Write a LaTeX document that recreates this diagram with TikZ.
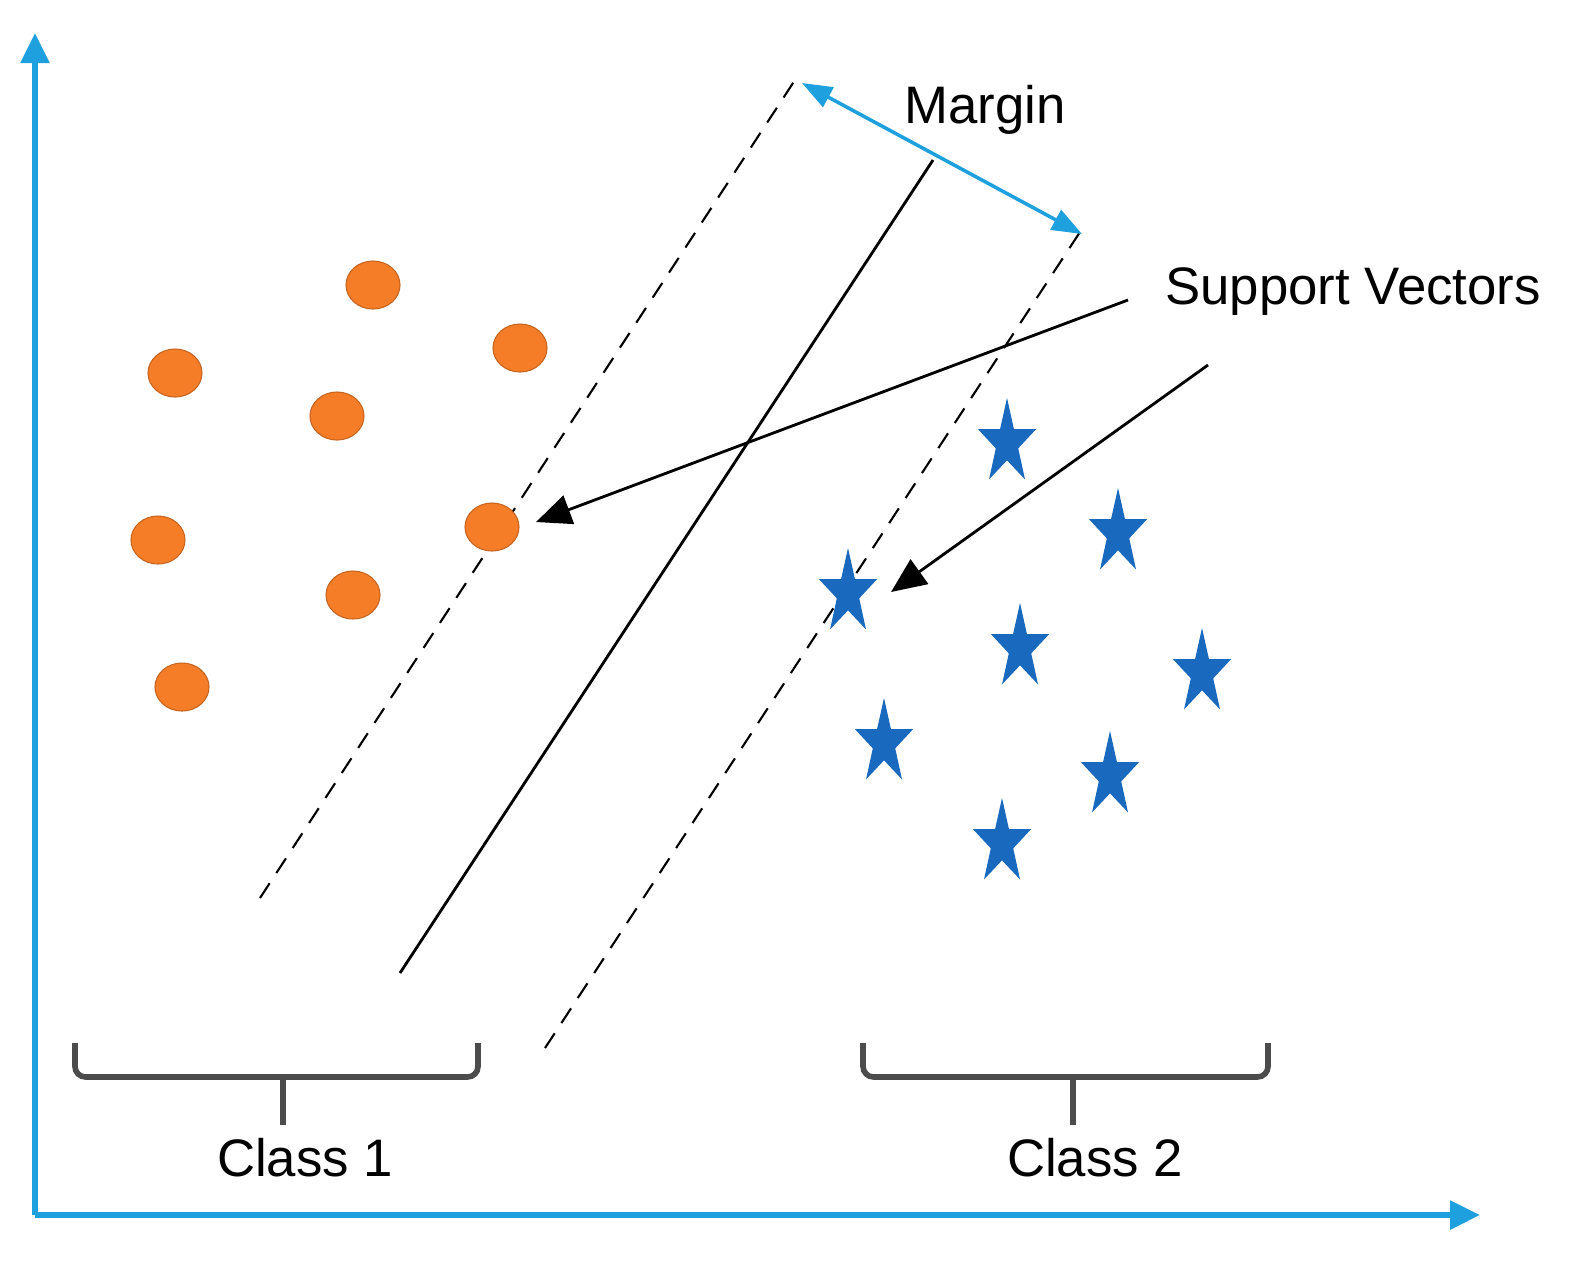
\documentclass[tikz,border=0pt]{standalone}
\usepackage{fontspec}
\setmainfont{Liberation Sans}
\usetikzlibrary{shapes.geometric,arrows.meta}
\definecolor{axc}{RGB}{30,160,222}
\definecolor{org}{RGB}{245,125,40}
\definecolor{stc}{RGB}{25,105,190}
\begin{document}
\begin{tikzpicture}[x=0.01cm,y=-0.01cm,
  dot/.style={ellipse,fill=org,draw=org!80!black,line width=0.3pt,minimum width=0.54cm,minimum height=0.48cm,inner sep=0},
  st/.style={star,star points=5,star point ratio=2.6,fill=stc,minimum size=0.9cm,inner sep=0,xscale=0.68,transform shape},
  lbl/.style={font=\fontsize{15}{18}\selectfont},
  brace/.style={draw=black!70,line width=1.6pt,rounded corners=3pt},
  dsh/.style={dash pattern=on 5pt off 3.5pt,line width=0.6pt},
  ax/.style={draw=axc,line width=1.6pt,-{Triangle[length=0.3cm,width=0.28cm]}}]
\useasboundingbox (0,0) rectangle (1571,1266);
\coordinate (o) at (35,1215);
\coordinate (yt) at (35,33);
\coordinate (xt) at (1480,1215);
\draw[ax] (o) -- (yt);
\draw[ax] (o) -- (xt);
\coordinate (d1a) at (260,898); \coordinate (d1b) at (795,80);
\coordinate (sa) at (400,973); \coordinate (sb) at (933,160);
\coordinate (d2a) at (545,1048); \coordinate (d2b) at (1080,232);
\draw[dsh] (d1a) -- (d1b);
\draw[thick] (sa) -- (sb);
\draw[dsh] (d2a) -- (d2b);
\coordinate (m1) at (802,83); \coordinate (m2) at (1082,234);
\draw[draw=axc,line width=1pt,{Triangle[length=0.3cm,width=0.22cm]}-{Triangle[length=0.3cm,width=0.22cm]}] (m1) -- (m2);
\node[lbl] (margin) at (985,110) {Margin};
\node[lbl] (sv) at (1353,292) {Support Vectors};
\foreach \n/\x/\y in {c1/373/285,c2/520/348,c3/175/373,c4/337/416,c5/158/540,c6/492/527,c7/353/595,c8/182/687}
  \node[dot] (\n) at (\x,\y) {};
\foreach \n/\x/\y in {s1/1007/443,s2/1118/533,s3/848/593,s4/1020/648,s5/1202/673,s6/884/743,s7/1110/776,s8/1002/843}
  \node[st] (\n) at (\x,\y) {};
\coordinate (a1s) at (1128,300); \coordinate (a1e) at (536,522);
\coordinate (a2s) at (1208,365); \coordinate (a2e) at (891,592);
\draw[thick,-{Triangle[length=0.35cm,width=0.3cm]}] (a1s) -- (a1e);
\draw[thick,-{Triangle[length=0.35cm,width=0.3cm]}] (a2s) -- (a2e);
\draw[brace] (75,1043) -- (75,1077) -- (283,1077) -- (478,1077) -- (478,1043);
\draw[brace] (283,1077) -- (283,1125);
\draw[brace] (863,1043) -- (863,1077) -- (1073,1077) -- (1268,1077) -- (1268,1043);
\draw[brace] (1073,1077) -- (1073,1125);
\node[lbl] (cl1) at (305,1158) {Class 1};
\node[lbl] (cl2) at (1095,1158) {Class 2};
\end{tikzpicture}
\end{document}
